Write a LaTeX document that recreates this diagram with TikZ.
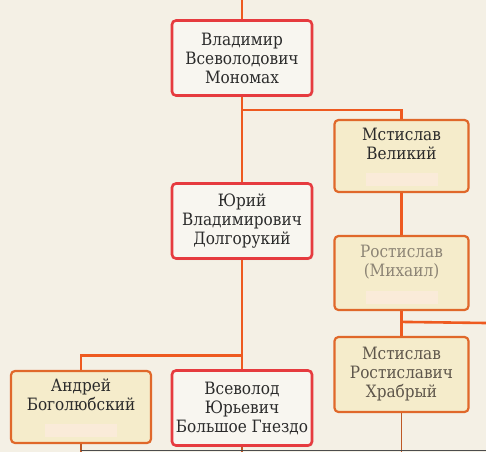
\documentclass[tikz,border=0pt]{standalone}
\usepackage{fontspec}
\setmainfont{DejaVu Serif}[FakeStretch=0.9]
\usetikzlibrary{shadows}
\definecolor{paper}{HTML}{F4F0E5}
\definecolor{redline}{HTML}{E63B3F}
\definecolor{orline}{HTML}{E0682A}
\definecolor{linkcol}{HTML}{EE5A20}
\definecolor{boxwhite}{HTML}{F8F6F0}
\definecolor{boxbeige}{HTML}{F5ECCB}
\definecolor{patchcol}{HTML}{FAEBD9}
\definecolor{ink}{HTML}{2B2B2B}
\definecolor{faded}{HTML}{8C8475}
\definecolor{dimink}{HTML}{5E564B}
\begin{document}
\begin{tikzpicture}[x=1pt, y=-1pt,
    redbox/.style={draw=redline, line width=2.6pt, rounded corners=4pt, fill=boxwhite,
        minimum width=140pt, minimum height=75pt, align=center, text=ink,
        inner xsep=2pt, font=\fontsize{17}{19}\selectfont,
        drop shadow={opacity=0.2, shadow xshift=1pt, shadow yshift=-1.5pt}},
    oldbox/.style={draw=orline, line width=2.2pt, rounded corners=4pt, fill=boxbeige,
        minimum width=134pt, minimum height=72pt, align=center, text=ink,
        inner xsep=2pt, font=\fontsize{17}{19}\selectfont},
    link/.style={draw=linkcol, line width=2.6pt},
    stub/.style={draw=orline!85!black, line width=1.8pt},
]
% Paper background
\fill[paper] (0,0) rectangle (486,452);
\useasboundingbox (0,0) rectangle (486,452);
% Main line (middle column)
\node[redbox] (vlad) at (242,58) {Владимир\\Всеволодович\\Мономах};
\node[redbox] (yuri) at (242,221) {Юрий\\Владимирович\\Долгорукий};
\node[redbox] (vsevol) at (242,408) {Всеволод\\Юрьевич\\Большое Гнездо};
% Side branches
\node[oldbox] (mstvel) at (401.5,156) {Мстислав\\Великий\\\strut};
\node[oldbox, text=faded, minimum height=74pt] (rostis) at (401.5,273) {Ростислав\\(Михаил)\\\strut};
\node[oldbox, text=dimink, minimum height=75pt] (mstros) at (401.5,374.5) {Мстислав\\Ростиславич\\Храбрый};
\node[oldbox, minimum width=140pt] (andrey) at (81,407) {Андрей\\Боголюбский\\\strut};
% Pale label patches
\foreach \b in {mstvel,rostis,andrey}
  \fill[patchcol] ([shift={(-36,-7)}]\b.south) rectangle ([shift={(36,-20)}]\b.south);
% Loose ends
\coordinate (top) at (242,0);
\coordinate (rend) at (486,323);
\coordinate (bot) at (0,452);
% Connectors
\draw[link] (top) -- (vlad.north);
\draw[link] (vlad.south) -- (yuri.north);
\draw[link] (vlad.south) ++(0,13) -| (mstvel.north);
\draw[link] (yuri.south) -- (vsevol.north);
\draw[link] (vsevol.north) ++(0,-14) -| (andrey.north);
\draw[link] (mstvel.south) -- (rostis.north);
\draw[link] (rostis.south) -- (mstros.north);
\draw[link] (mstros.north) ++(0,-14) -- (rend);
% Stubs to the next row
\draw[stub] (andrey.south) -- (andrey.south |- bot);
\draw[stub] (vsevol.south) -- (vsevol.south |- bot);
\draw[stub] (mstros.south) -- (mstros.south |- bot);
\draw[black!70, line width=0.8pt] (andrey.south |- 0,450) -- (486,450);
\end{tikzpicture}
\end{document}
